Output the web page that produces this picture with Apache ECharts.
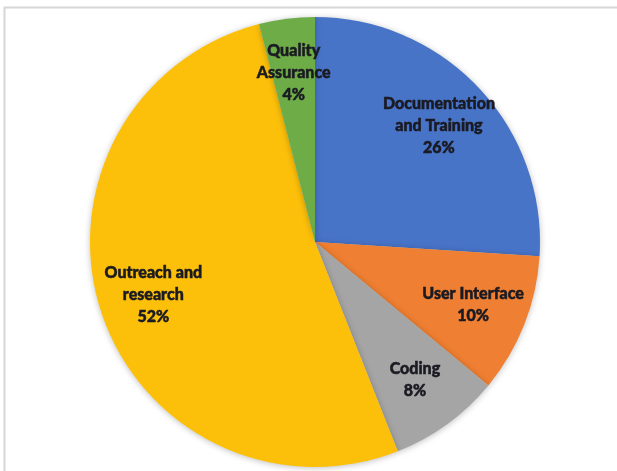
<!DOCTYPE html>
<html>
<head>
<meta charset="utf-8">
<script src="https://cdn.jsdelivr.net/npm/echarts@6/dist/echarts.min.js"></script>
<style>html,body{margin:0;padding:0;background:#fff;}#c{width:617px;height:471px;}</style>
</head>
<body>
<div id="c"></div>
<script>
const categories = ["Documentation\nand Training", "User Interface", "Coding", "Outreach and\nresearch", "Quality\nAssurance"];
const values = [26, 10, 8, 52, 4];
const colors = ["#4874C8", "#EF7F32", "#A5A5A5", "#FDC00A", "#6DAC47"];

const chart = echarts.init(document.getElementById('c'));
const dataMain = categories.map((n, i) => ({ name: n, value: values[i], itemStyle: { color: colors[i] } }));
const dataLabels = categories.map((n, i) => ({ name: n, value: values[i] }));

chart.setOption({
  animation: false,
  graphic: [{
    type: 'rect', silent: true, z: -10,
    shape: { x: 4.5, y: 7.5, width: 700, height: 500 },
    style: { fill: 'none', stroke: '#d6d6d6', lineWidth: 2 }
  }],
  series: [
    {
      type: 'pie',
      center: [315, 242],
      radius: [0, 225],
      startAngle: 90,
      clockwise: true,
      label: { show: false },
      labelLine: { show: false },
      itemStyle: { borderWidth: 0, shadowBlur: 6, shadowColor: 'rgba(0,0,0,0.25)', shadowOffsetY: 1 },
      emphasis: { disabled: true },
      data: dataMain
    },
    {
      type: 'pie',
      center: [315, 242],
      radius: [0, 334],
      startAngle: 90,
      clockwise: true,
      silent: true,
      itemStyle: { color: 'rgba(0,0,0,0)', borderWidth: 0 },
      labelLine: { show: false },
      label: {
        show: true,
        position: 'inside',
        formatter: p => p.name + '\n' + p.value + '%',
        fontFamily: 'Lato',
        fontWeight: 900,
        fontSize: 16,
        lineHeight: 22,
        color: '#1a1a22',
        textBorderColor: '#1a1a22',
        textBorderWidth: 0.5,
        align: 'center'
      },
      emphasis: { disabled: true },
      data: dataLabels
    }
  ]
});
</script>
</body>
</html>
